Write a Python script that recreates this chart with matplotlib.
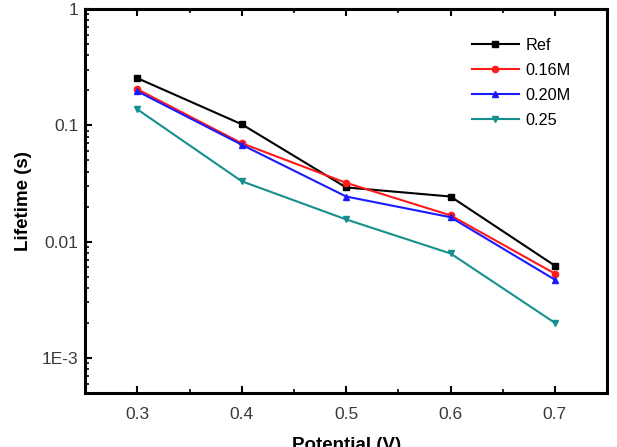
import matplotlib.pyplot as plt
from matplotlib.ticker import FixedLocator, FuncFormatter, LogLocator, MultipleLocator

plt.rcParams['font.family'] = ['Liberation Sans', 'DejaVu Sans']

potential = [0.3, 0.4, 0.5, 0.6, 0.7]
ref = [0.254, 0.102, 0.0292, 0.0244, 0.0062]
m016 = [0.204, 0.070, 0.032, 0.0168, 0.0053]
m020 = [0.196, 0.068, 0.0244, 0.0162, 0.0047]
m025 = [0.137, 0.033, 0.0155, 0.0079, 0.0020]

labels = ['Ref', '0.16M', '0.20M', '0.25']
colors = ['black', '#ff1a1a', '#1a1aff', '#168f8f']
markers = ['s', 'o', '^', 'v']

fig = plt.figure(figsize=(6.17, 4.47), dpi=100)
ax = fig.add_axes([0.138, 0.121, 0.846, 0.859])

for ys, lab, c, m in zip([ref, m016, m020, m025], labels, colors, markers):
    ax.plot(potential, ys, color=c, marker=m, markersize=4.5, linewidth=1.5, label=lab)

ax.set_yscale('log')
ax.set_ylim(5e-4, 1)
ax.set_xlim(0.25, 0.75)

ax.xaxis.set_major_locator(FixedLocator(potential))
ax.xaxis.set_minor_locator(MultipleLocator(0.05))
ax.yaxis.set_major_locator(FixedLocator([1e-3, 1e-2, 1e-1, 1]))
ax.yaxis.set_minor_locator(LogLocator(base=10, subs=range(2, 10), numticks=20))

ylab = {1e-3: '1E-3', 1e-2: '0.01', 1e-1: '0.1', 1: '1'}
ax.yaxis.set_major_formatter(FuncFormatter(lambda v, p: min(ylab.items(), key=lambda kv: abs(kv[0] - v))[1]))
ax.yaxis.set_minor_formatter(FuncFormatter(lambda v, p: ''))
ax.xaxis.set_major_formatter(FuncFormatter(lambda v, p: f'{v:.1f}'))

ax.tick_params(axis='both', which='both', direction='in', labelsize=12.5, labelcolor='#3a3a3a')
ax.tick_params(axis='x', which='both', top=True, bottom=True, pad=10)
ax.tick_params(axis='y', which='both', right=False, pad=5)
ax.tick_params(which='major', length=5, width=1.5)
ax.tick_params(which='minor', length=3, width=1.2)

for s in ax.spines.values():
    s.set_linewidth(2.2)

ax.set_xlabel('Potential (V)', fontsize=13.5, fontweight='bold', labelpad=11)
ax.set_ylabel('Lifetime (s)', fontsize=13.5, fontweight='bold', labelpad=7)

ax.legend(loc='upper left', frameon=False, fontsize=11.7, handlelength=2.9,
          handletextpad=0.4, bbox_to_anchor=(0.741, 0.925), borderpad=0,
          borderaxespad=0, labelspacing=0.62)

fig.savefig('out.png', dpi=100)
